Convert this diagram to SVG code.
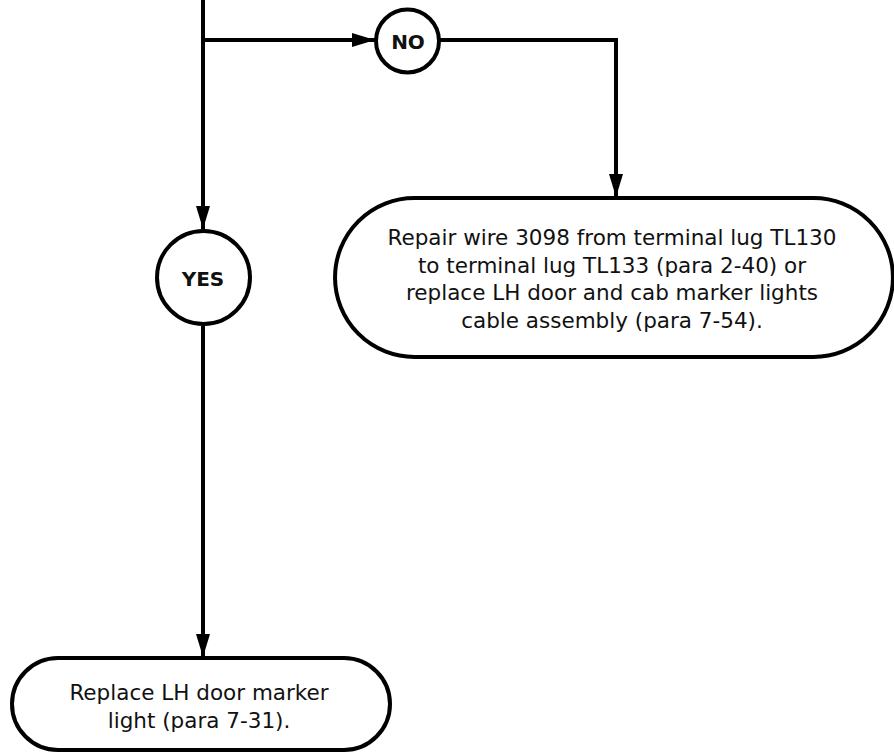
<svg xmlns="http://www.w3.org/2000/svg" width="894" height="755" viewBox="0 0 894 755">
<style>
.ln{fill:none;stroke:#000;stroke-width:4}
.shape{fill:#fff;stroke:#000;stroke-width:4}
.t{font-family:"DejaVu Sans",Verdana,sans-serif;font-size:21.5px;fill:#111;text-anchor:middle}
.b{font-family:"DejaVu Sans",Verdana,sans-serif;font-size:20px;font-weight:bold;fill:#111;text-anchor:middle}
</style>
<defs>
<marker id="ah" markerUnits="userSpaceOnUse" markerWidth="24" markerHeight="14" refX="23" refY="7" orient="auto">
<path d="M0,0 L23,7 L0,14 Z" fill="#000"/>
</marker>
</defs>
<g id="connectors">
<path class="ln" d="M203,0 V229" marker-end="url(#ah)"/>
<path class="ln" d="M203,40 H375" marker-end="url(#ah)"/>
<path class="ln" d="M440,40 H616 V197" marker-end="url(#ah)"/>
<path class="ln" d="M203,326 V657" marker-end="url(#ah)"/>
</g>
<g id="no">
<circle class="shape" cx="407.5" cy="41" r="31.5"/>
<text class="b" x="408" y="48.5">NO</text>
</g>
<g id="yes">
<circle class="shape" cx="203.5" cy="277.5" r="46.5"/>
<text class="b" x="203" y="286">YES</text>
</g>
<g id="repair">
<path class="shape" d="M414.5,198 H813.5 A79.5,79.5 0 0 1 813.5,357 H414.5 A79.5,79.5 0 0 1 414.5,198 Z"/>
<text class="t" x="612" y="245">Repair wire 3098 from terminal lug TL130</text>
<text class="t" x="612" y="272.7">to terminal lug TL133 (para 2-40) or</text>
<text class="t" x="612" y="300.3">replace LH door and cab marker lights</text>
<text class="t" x="612" y="328">cable assembly (para 7-54).</text>
</g>
<g id="replace">
<path class="shape" d="M58,658 H344 A46,46 0 0 1 344,750 H58 A46,46 0 0 1 58,658 Z"/>
<text class="t" x="199" y="700">Replace LH door marker</text>
<text class="t" x="199" y="728">light (para 7-31).</text>
</g>
</svg>
